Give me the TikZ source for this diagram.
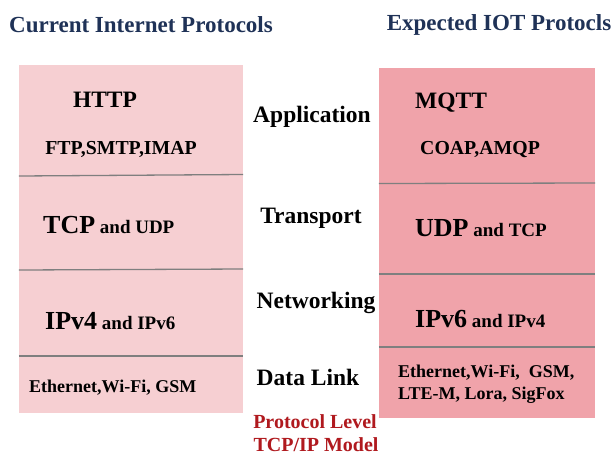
\documentclass[tikz,border=0pt]{standalone}
\usepackage{fontspec}
\setmainfont{Liberation Serif}
\definecolor{leftfill}{HTML}{F6CFD2}
\definecolor{rightfill}{HTML}{F0A3AA}
\definecolor{titleblue}{HTML}{1F3257}
\definecolor{divgray}{HTML}{7F7F7F}
\definecolor{protored}{HTML}{B0191E}
\newcommand{\bigpart}[1]{{\fontsize{26}{28}\selectfont #1}}
\newcommand{\smallpart}[1]{{\fontsize{19}{21}\selectfont\ #1}}
\begin{document}
\begin{tikzpicture}[x=1pt,y=-1pt,
  box/.style={draw=none,inner sep=0pt},
  divider/.style={draw=divgray,line width=1.3pt},
  txt/.style={inner sep=0pt,font=\bfseries,text=black},
  title/.style={inner sep=0pt,font=\fontsize{23}{26}\selectfont\bfseries,text=titleblue},
  big/.style={txt,font=\fontsize{23.5}{26}\selectfont\bfseries},
  mid/.style={txt,font=\fontsize{19.8}{22}\selectfont\bfseries},
  small/.style={txt,font=\fontsize{18}{20}\selectfont\bfseries},
  layer/.style={txt,font=\fontsize{23.5}{26}\selectfont\bfseries},
  red/.style={inner sep=0pt,font=\fontsize{20}{23}\selectfont\bfseries,text=protored}]
\useasboundingbox[fill=white] (0,0) rectangle (613,456);
% titles
\node[title] (t1) at (141,25) {Current Internet Protocols};
\node[title] (t2) at (499,25) {Expected IOT Protocls};
% boxes
\node[box,fill=leftfill,minimum width=224pt,minimum height=348pt] (L) at (131,239) {};
\node[box,fill=rightfill,minimum width=216pt,minimum height=350pt] (R) at (487,243) {};
% dividers
\draw[divider] (L.west |- 0,176) -- (L.east |- 0,174.5);
\draw[divider] (L.west |- 0,270) -- (L.east |- 0,269);
\draw[divider] (L.west |- 0,356) -- (L.east |- 0,356);
\draw[divider] (R.west |- 0,183.5) -- (R.east |- 0,183);
\draw[divider] (R.west |- 0,274) -- (R.east |- 0,274);
\draw[divider] (R.west |- 0,347) -- (R.east |- 0,347);
% left texts
\node[big] (http) at (105,100) {HTTP};
\node[mid] (ftp) at (121,149) {FTP,SMTP,IMAP};
\node[txt,anchor=west] (tcp) at (43,225) {\bigpart{TCP}\smallpart{and UDP}};
\node[txt,anchor=west] (ip4) at (45,321) {\bigpart{IPv4}\smallpart{and IPv6}};
\node[small,anchor=west] (eth1) at (29,388) {Ethernet,Wi-Fi, GSM};
% right texts
\node[big,anchor=west] (mqtt) at (415,103) {MQTT};
\node[mid,anchor=west] (coap) at (420,150) {COAP,AMQP};
\node[txt,anchor=west] (udp) at (415,228) {\bigpart{UDP}\smallpart{and TCP}};
\node[txt,anchor=west] (ip6) at (415,319) {\bigpart{IPv6}\smallpart{and IPv4}};
\node[small,anchor=west] (eth2) at (398,373) {Ethernet,Wi-Fi,\ \ GSM,};
\node[small,anchor=west] (lte) at (398,395) {LTE-M, Lora, SigFox};
% middle layer names
\node[layer] (app) at (312,117) {Application};
\node[layer] (trans) at (311,218) {Transport};
\node[layer] (net) at (316,303) {Networking};
\node[layer] (dl) at (308,377) {Data Link};
\node[red] (pl) at (315,422) {Protocol Level};
\node[red] (tm) at (316,445) {TCP/IP Model};
\end{tikzpicture}
\end{document}
